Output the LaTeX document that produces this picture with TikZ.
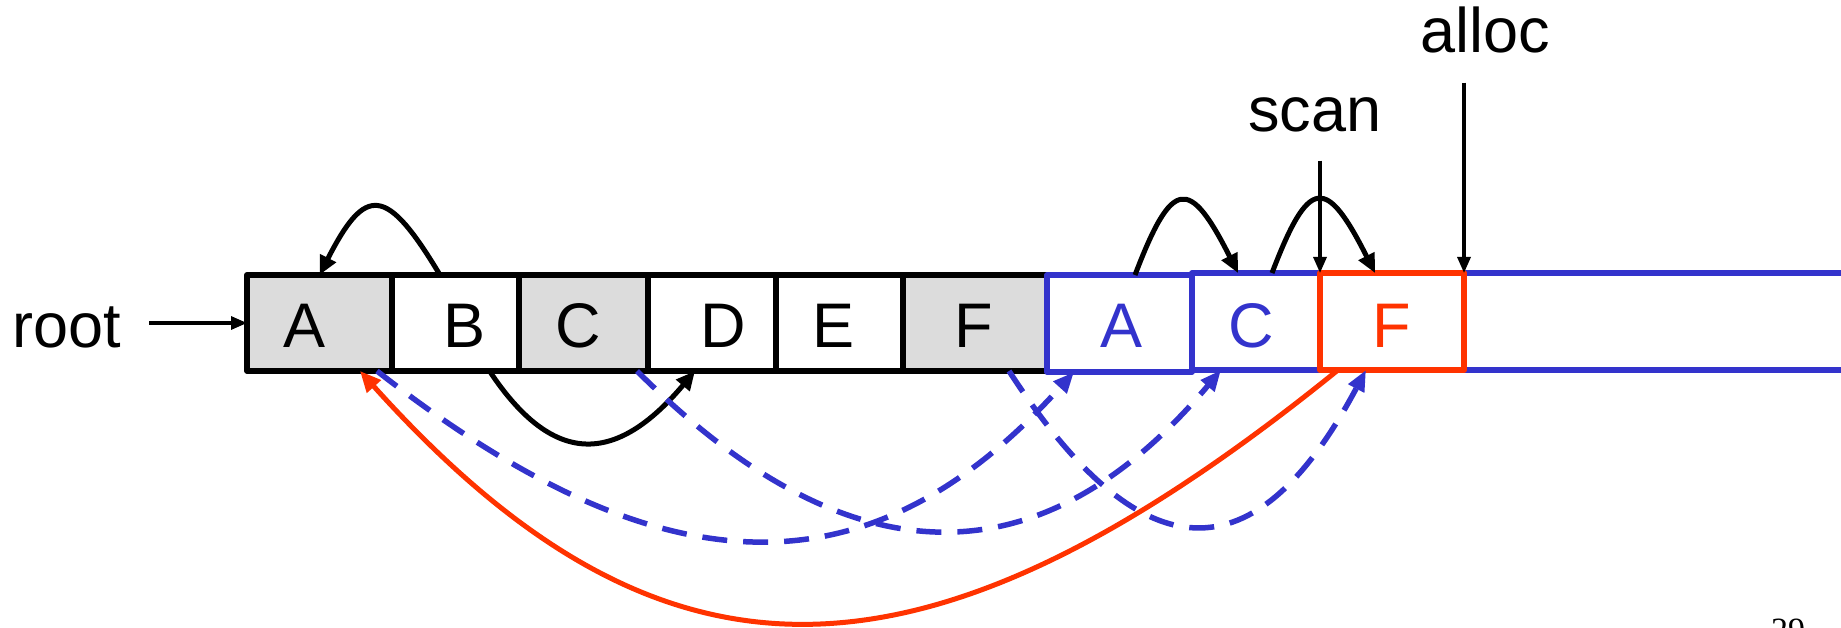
\documentclass[tikz,border=0pt]{standalone}
\usepackage{fontspec}
\setmainfont{Liberation Sans}
\newfontfamily\pagenumfont{Liberation Serif}
\usetikzlibrary{arrows.meta}
\definecolor{myblue}{HTML}{3333CC}
\definecolor{myred}{HTML}{FF3300}
\definecolor{mygray}{HTML}{DCDCDC}
\begin{document}
\begin{tikzpicture}[x=1pt,y=-1pt,
  cell/.style={draw, line width=5.8pt, line join=round, minimum height=96pt, inner sep=0pt, outer sep=0pt},
  bcell/.style={cell, draw=myblue},
  rcell/.style={cell, draw=myred, line width=6pt},
  lbl/.style={inner sep=0pt, outer sep=0pt, font=\fontsize{63pt}{70pt}\selectfont},
  arc/.style={line width=5pt, -{Triangle[length=19pt,width=17pt]}},
  bdash/.style={myblue, line width=5.5pt, dash pattern=on 25pt off 16pt, -{Triangle[length=21pt,width=17pt]}},
  rline/.style={myred, line width=5pt, -{Triangle[length=21pt,width=18pt]}},
  ptr/.style={line width=3.2pt, -{Triangle[length=16pt,width=13pt]}}]
\useasboundingbox (0,0) rectangle (1841,628);

% from-space cells
\node[cell, fill=mygray, minimum width=145pt] (nA) at (319.5,323) {};
\node[cell, minimum width=127pt] (nB) at (455.5,323) {};
\node[cell, fill=mygray, minimum width=129pt] (nC) at (583.5,323) {};
\node[cell, minimum width=128pt] (nD) at (712,323) {};
\node[cell, minimum width=127pt] (nE) at (839.5,323) {};
\node[cell, fill=mygray, minimum width=144pt] (nF) at (975,323) {};

% to-space cells
\node[bcell, minimum width=145pt, minimum height=97pt] (nA2) at (1119.5,323.5) {};
\node[bcell, minimum width=128pt, minimum height=97pt] (nC2) at (1256,321.5) {};
\draw[myblue, line width=5.8pt] (nC2.north east) -- ++(540,0);
\draw[myblue, line width=5.8pt] (nC2.south east) -- ++(540,0);
\node[rcell, minimum width=144pt, minimum height=97pt] (nF2) at (1392,321.5) {};

% letters
\node[lbl, anchor=base] (tA) at (305,347) {A};
\node[lbl, anchor=base] (tB) at (465,347) {B};
\node[lbl, anchor=base] (tC) at (578,347) {C};
\node[lbl, anchor=base] (tD) at (723,347) {D};
\node[lbl, anchor=base] (tE) at (833,347) {E};
\node[lbl, anchor=base] (tF) at (974,347) {F};
\node[lbl, anchor=base, text=myblue] (tA2) at (1121,347) {A};
\node[lbl, anchor=base, text=myblue] (tC2) at (1251,347) {C};
\node[lbl, anchor=base, text=myred] (tF2) at (1392,347) {F};

% labels and pointers
\node[lbl, anchor=base] (root) at (67,347) {root};
\node[lbl, anchor=base] (scan) at (1315,132) {scan};
\node[lbl, anchor=base] (alloc) at (1485,53) {alloc};
\draw[ptr, shorten <=28pt] (root.east |- nA.west) -- (nA.west);
\draw[ptr, shorten <=28pt] (scan.south -| nF2.north west) -- (nF2.north west);
\draw[ptr, shorten <=29pt] (alloc.south -| nF2.north east) -- (nF2.north east);

% black pointer arcs
\draw[arc] ([xshift=48pt]nB.north west) .. controls +(-54,-90) and +(46,-90) .. (nA.north);
\draw[arc] ([xshift=34pt]nB.south) .. controls +(63,95) and +(-80,95) .. ([xshift=-17pt]nD.south);
\draw[arc] ([xshift=15.5pt]nA2.north) .. controls +(37,-97) and +(-49,-97) .. ([xshift=-18pt]nC2.north);
\draw[arc] ([xshift=16pt]nC2.north) .. controls +(37,-97) and +(-49,-97) .. ([xshift=-17pt]nF2.north);

% forwarding pointers
\draw[bdash] ([xshift=-15pt]nA.south east) .. controls +(288,225) and +(-203,225) .. ([xshift=27pt]nA2.south west);
\draw[bdash] ([xshift=-11pt]nC.south east) .. controls +(213,213) and +(-179,213) .. ([xshift=29pt]nC2.south west);
\draw[bdash] ([xshift=34pt]nF.south) .. controls +(134,207) and +(-110,207) .. ([xshift=46pt]nF2.south west);
\draw[rline] ([xshift=18pt]nF2.south west) .. controls +(-415,336) and +(302,336) .. ([xshift=-32pt]nA.south east);

% slide number (cut off)
\node[anchor=base west, inner sep=0pt, font=\pagenumfont\fontsize{34pt}{40pt}\selectfont] (pg) at (1771,641) {29};
\end{tikzpicture}
\end{document}
